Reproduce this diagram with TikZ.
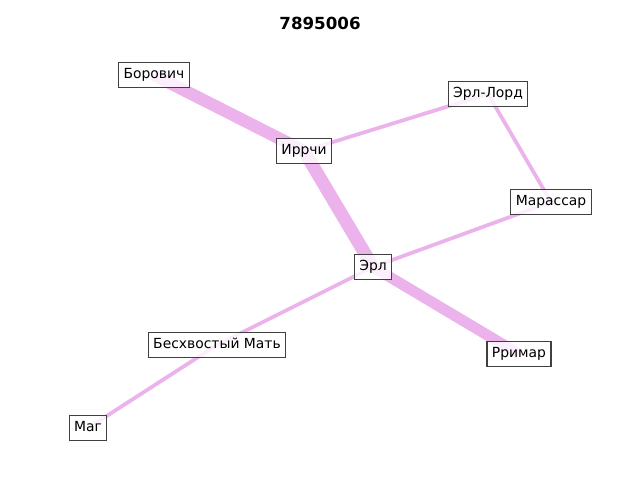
\documentclass[tikz,border=0pt]{standalone}
\usepackage{fontspec}
\setmainfont{DejaVu Sans}
\definecolor{edgec}{RGB}{235,178,235}
\definecolor{boxc}{RGB}{64,64,64}
\tikzset{
  lbl/.style={draw=boxc, line width=0.8pt, fill=white, fill opacity=0.8, text opacity=1,
    font=\fontsize{10}{12}\selectfont, inner xsep=3.6pt, inner ysep=0pt,
    minimum height=17.5pt, text height=7.6pt, text depth=2pt},
  thick edge/.style={draw=edgec, line width=#1},
  ttl/.style={font=\fontsize{12}{14}\selectfont\bfseries}
}
\begin{document}
\begin{tikzpicture}[x=0.72pt, y=-0.72pt]
\useasboundingbox (0,0) rectangle (640,480);
\coordinate (cB) at (154,75);
\coordinate (cI) at (304,151);
\coordinate (cEL) at (488,94);
\coordinate (cM) at (551,202);
\coordinate (cE) at (373,267);
\coordinate (cBM) at (217,345);
\coordinate (cR) at (519,354);
\coordinate (cMg) at (88,428);
\draw[thick edge=8.8pt] (cB) -- (cI);
\draw[thick edge=9.4pt] (cI) -- (cE);
\draw[thick edge=7.8pt] (cE) -- (cR);
\draw[thick edge=2.7pt] (cI) -- (cEL);
\draw[thick edge=2.7pt] (cEL) -- (cM);
\draw[thick edge=2.7pt] (cM) -- (cE);
\draw[thick edge=2.7pt] (cE) -- (cBM);
\draw[thick edge=2.7pt] (cBM) -- (cMg);
\node[lbl] (B) at (cB) {Борович};
\node[lbl] (I) at (cI) {Иррчи};
\node[lbl] (EL) at (cEL) {Эрл-Лорд};
\node[lbl] (M) at (cM) {Марассар};
\node[lbl] (E) at (cE) {Эрл};
\node[lbl] (BM) at (cBM) {Бесхвостый Мать};
\node[lbl] (R) at (cR) {Рримар};
\node[lbl] (Mg) at (cMg) {Маг};
\node[ttl] (title) at (320,23) {7895006};
\end{tikzpicture}
\end{document}
